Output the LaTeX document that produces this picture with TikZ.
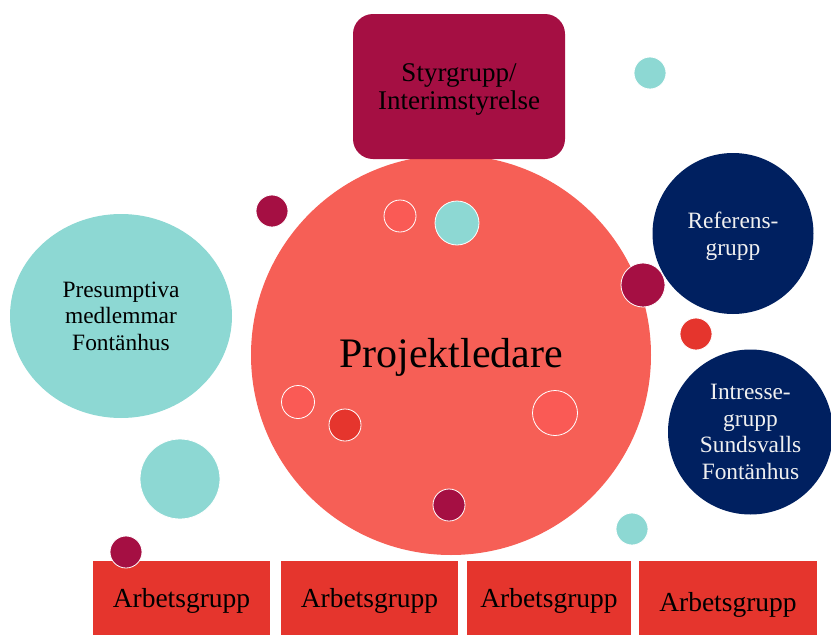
\documentclass[tikz,border=0pt]{standalone}
\usepackage{fontspec}
\setmainfont{Liberation Serif}
\usetikzlibrary{shapes.geometric}
\definecolor{crimson}{HTML}{A50F43}
\definecolor{salmon}{HTML}{F65F56}
\definecolor{salmonlt}{HTML}{FA5A55}
\definecolor{tealc}{HTML}{8DD8D3}
\definecolor{navyc}{HTML}{002060}
\definecolor{redbox}{HTML}{E5352D}
\begin{document}
\begin{tikzpicture}[x=1pt,y=-1pt,
  dot/.style={circle,inner sep=0pt,draw=white,line width=0.8pt},
  bigc/.style={circle,inner sep=0pt},
  abox/.style={rectangle,inner sep=0pt,fill=redbox},
  atext/.style={font=\fontsize{27.5}{30}\selectfont,text=black,anchor=base},
  ctext/.style={font=\fontsize{23.4}{26.5}\selectfont,align=center}
]
\useasboundingbox (0,0) rectangle (831,635);
% main circles
\node[bigc,fill=salmon,minimum size=400pt] (proj) at (451,355) {};
\node[font=\fontsize{42}{46}\selectfont] (projt) at (451,357) {Projektledare};
\node[ellipse,inner sep=0pt,fill=tealc,minimum width=222pt,minimum height=204pt,ctext] (pres) at (121,316) {Presumptiva\\medlemmar\\Fontänhus};
\node[bigc,fill=navyc,minimum size=161pt] (ref) at (733,233.5) {};
\node[ctext,text=white!94!black] (reft) at (733,236.5) {Referens-\\grupp};
\node[bigc,fill=navyc,minimum size=165pt,ctext,text=white!94!black] (intr) at (750.5,432) {Intresse-\\grupp\\Sundsvalls\\Fontänhus};
% top box
\node[rectangle,rounded corners=20pt,fill=crimson,minimum width=212pt,minimum height=145pt,inner sep=0pt] (styr) at (459,86.5) {};
\node[align=center,font=\fontsize{27}{28}\selectfont] (styrt) at (459,89) {Styrgrupp/\\Interimstyrelse};
% bottom boxes
\node[abox,minimum width=177pt,minimum height=74pt] (a1) at (181.5,598) {};
\node[abox,minimum width=177pt,minimum height=74pt] (a2) at (369.5,598) {};
\node[abox,minimum width=164pt,minimum height=74pt] (a3) at (549,598) {};
\node[abox,minimum width=178pt,minimum height=74pt] (a4) at (728,598) {};
\node[atext] (t1) at (181.5,607) {Arbetsgrupp};
\node[atext] (t2) at (369.5,607) {Arbetsgrupp};
\node[atext] (t3) at (549,607) {Arbetsgrupp};
\node[atext] (t4) at (728,611) {Arbetsgrupp};
% small circles
\node[dot,fill=crimson,minimum size=32pt] (d1) at (272,211) {};
\node[dot,fill=tealc,minimum size=32pt] (d2) at (650,73) {};
\node[dot,fill=salmonlt,minimum size=32pt] (d3) at (400,216) {};
\node[dot,fill=tealc,minimum size=44pt] (d4) at (457,223) {};
\node[dot,fill=crimson,minimum size=44pt] (d5) at (643,285) {};
\node[dot,fill=redbox,minimum size=32pt] (d6) at (696,334) {};
\node[dot,fill=salmonlt,minimum size=33pt] (d7) at (298,402) {};
\node[dot,fill=redbox,minimum size=32pt] (d8) at (345,425) {};
\node[dot,fill=salmonlt,minimum size=45pt] (d9) at (555,413) {};
\node[dot,fill=tealc,minimum size=80pt] (d10) at (180,479) {};
\node[dot,fill=crimson,minimum size=32pt] (d11) at (449,505) {};
\node[dot,fill=crimson,minimum size=32pt] (d12) at (126,552) {};
\node[dot,fill=tealc,minimum size=32pt] (d13) at (632,529) {};
\end{tikzpicture}
\end{document}
